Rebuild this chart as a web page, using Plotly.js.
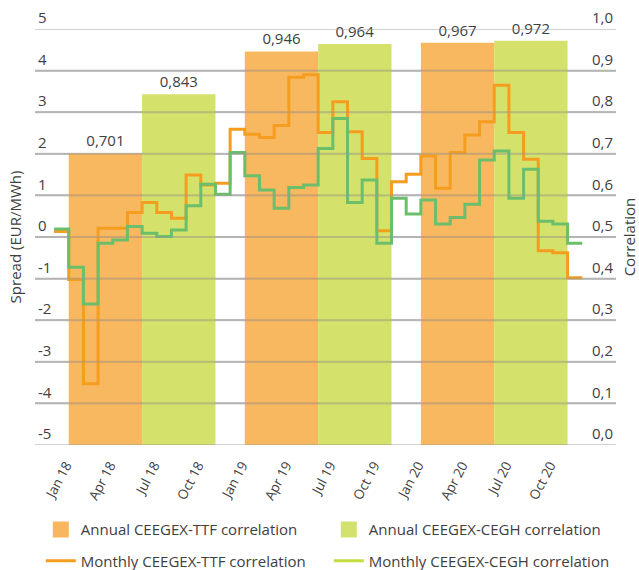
<!DOCTYPE html>
<html>
<head>
<meta charset="utf-8">
<script src="https://cdn.plot.ly/plotly-3.0.1.min.js"></script>
<style>html,body{margin:0;padding:0;background:#fff}#chart{width:639px;height:570px}</style>
</head>
<body>
<div id="chart"></div>
<script>
// ---- data ----
const months = ['Jan 18','Feb 18','Mar 18','Apr 18','May 18','Jun 18','Jul 18','Aug 18','Sep 18','Oct 18','Nov 18','Dec 18',
                'Jan 19','Feb 19','Mar 19','Apr 19','May 19','Jun 19','Jul 19','Aug 19','Sep 19','Oct 19','Nov 19','Dec 19',
                'Jan 20','Feb 20','Mar 20','Apr 20','May 20','Jun 20','Jul 20','Aug 20','Sep 20','Oct 20','Nov 20','Dec 20'];
const monthlyTTF = [0.513,0.398,0.147,0.521,0.521,0.559,0.583,0.559,0.545,0.649,0.625,0.629,
                    0.759,0.747,0.739,0.768,0.884,0.890,0.751,0.825,0.753,0.689,0.515,0.633,
                    0.651,0.695,0.617,0.703,0.745,0.777,0.865,0.751,0.687,0.467,0.462,0.402];
const monthlyCEGH = [0.519,0.427,0.339,0.485,0.493,0.525,0.509,0.501,0.517,0.575,0.627,0.603,
                     0.703,0.647,0.613,0.569,0.619,0.625,0.713,0.785,0.583,0.637,0.485,0.593,
                     0.555,0.589,0.531,0.547,0.579,0.685,0.707,0.593,0.663,0.538,0.531,0.485];
const years = ['2018','2019','2020'];
const annualTTF = [0.701,0.946,0.967];
const annualCEGH = [0.843,0.964,0.972];
const tickMonths = ['Jan','Apr','Jul','Oct'];
const spreadTicks = [-5,-4,-3,-2,-1,0,1,2,3,4,5];
const spreadLabels = ['-5','-4','-3','-2','-1','0','1','2','3','4','5'];

// ---- derived ----
const xm = months.map((m,i)=>i);
const xStep = xm.concat([months.length]);
const ttfStep = monthlyTTF.concat([monthlyTTF[monthlyTTF.length-1]]);
const ceghStep = monthlyCEGH.concat([monthlyCEGH[monthlyCEGH.length-1]]);
const yearCenters = years.map((y,i)=>i*12+6);
const tickIdx = xm.filter(i=>tickMonths.includes(months[i].slice(0,3)));
const tickTxt = tickIdx.map(i=>months[i]);

const FONT = 'Open Sans, Noto Sans, sans-serif';
const TXT = '#404040';
const GRID = '#cccccc';
const GRID_OVER = 'rgba(150,150,150,0.42)';
const ORANGE_BAR = 'rgba(246,166,56,0.8)';
const GREEN_BAR = 'rgba(201,219,71,0.8)';
const ORANGE_LINE = '#F59D1F';
const GREEN_LINE = '#6CBF6A';
const LIME_LEG = '#C5DC3F';

const traces = [
  {type:'bar', x:yearCenters, y:annualTTF, yaxis:'y2', name:'Annual CEEGEX-TTF correlation', showlegend:false,
   marker:{color:ORANGE_BAR}, texttemplate:'%{y:.3f}', textposition:'outside', cliponaxis:false,
   textfont:{family:FONT,size:15,color:TXT}, hoverinfo:'skip'},
  {type:'bar', x:yearCenters, y:annualCEGH, yaxis:'y2', name:'Annual CEEGEX-CEGH correlation', showlegend:false,
   marker:{color:GREEN_BAR}, texttemplate:'%{y:.3f}', textposition:'outside', cliponaxis:false,
   textfont:{family:FONT,size:15,color:TXT}, hoverinfo:'skip'},
  {type:'scatter', mode:'lines', x:xStep, y:ttfStep, yaxis:'y2', line:{shape:'hv', color:ORANGE_LINE, width:3},
   name:'Monthly CEEGEX-TTF correlation', showlegend:false},
  {type:'scatter', mode:'lines', x:xStep, y:ceghStep, yaxis:'y2', line:{shape:'hv', color:GREEN_LINE, width:3},
   name:'Monthly CEEGEX-CEGH correlation', showlegend:false},
  // legend entries (on the spread axis so the left axis is drawn)
  {type:'scatter', mode:'markers', x:[null], y:[null], yaxis:'y', name:'Annual CEEGEX-TTF correlation',
   marker:{symbol:'square', size:16, color:'#F8B75F'}, legend:'legend'},
  {type:'scatter', mode:'markers', x:[null], y:[null], yaxis:'y', name:'Annual CEEGEX-CEGH correlation',
   marker:{symbol:'square', size:16, color:'#D3E26C'}, legend:'legend'},
  {type:'scatter', mode:'lines', x:[null], y:[null], yaxis:'y', name:'Monthly CEEGEX-TTF correlation',
   line:{color:ORANGE_LINE, width:3}, legend:'legend2'},
  {type:'scatter', mode:'lines', x:[null], y:[null], yaxis:'y', name:'Monthly CEEGEX-CEGH correlation',
   line:{color:LIME_LEG, width:3}, legend:'legend2'}
];

const legendBase = {orientation:'h', xanchor:'left', yanchor:'middle', x:0.01,
  font:{family:FONT,size:15,color:TXT}, entrywidth:243, entrywidthmode:'pixels',
  itemsizing:'trace', bgcolor:'rgba(0,0,0,0)'};

// horizontal guide lines at the spread ticks, placed through the spread axis
const gridShapes = spreadTicks.map(v=>({type:'line', xref:'paper', yref:'y', x0:0, x1:1, y0:v, y1:v,
  layer:'above', line:{color:GRID_OVER, width:2}}));

const layout = {
  width:639, height:570,
  margin:{l:35, r:23, t:29, b:125, autoexpand:false},
  paper_bgcolor:'#ffffff', plot_bgcolor:'rgba(0,0,0,0)',
  separators:', ',
  font:{family:FONT, size:15, color:TXT},
  barmode:'group', bargap:1/6, bargroupgap:0,
  showlegend:true,
  legend:Object.assign({}, legendBase, {y:-0.204}),
  legend2:Object.assign({}, legendBase, {y:-0.279}),
  shapes:gridShapes,
  xaxis:{range:[-1.3,38.3], tickvals:tickIdx, ticktext:tickTxt, tickangle:-62,
    showgrid:false, zeroline:false, showline:false,
    tickfont:{family:FONT,size:13.5,color:TXT}, ticklabelshift:12, ticklabelstandoff:9},
  yaxis:{range:[-5,5], tickvals:spreadTicks, ticktext:spreadLabels, showgrid:true, gridcolor:GRID, gridwidth:2,
    zeroline:false, ticklabelposition:'inside', ticklabeloverflow:'allow', ticklabelshift:-11, ticklabelstandoff:0,
    tickfont:{family:FONT,size:15,color:TXT},
    title:{text:'Spread (EUR/MWh)', font:{family:FONT,size:15,color:TXT}, standoff:12}},
  yaxis2:{range:[0,1], dtick:0.1, tickformat:'.1f', overlaying:'y', side:'right', showgrid:false,
    zeroline:false, ticklabelposition:'inside', ticklabeloverflow:'allow', ticklabelshift:-11, ticklabelstandoff:0,
    tickfont:{family:FONT,size:15,color:TXT},
    title:{text:'Correlation', font:{family:FONT,size:15,color:TXT}, standoff:12}}
};

Plotly.newPlot('chart', traces, layout, {displayModeBar:false, staticPlot:true});
</script>
</body>
</html>
